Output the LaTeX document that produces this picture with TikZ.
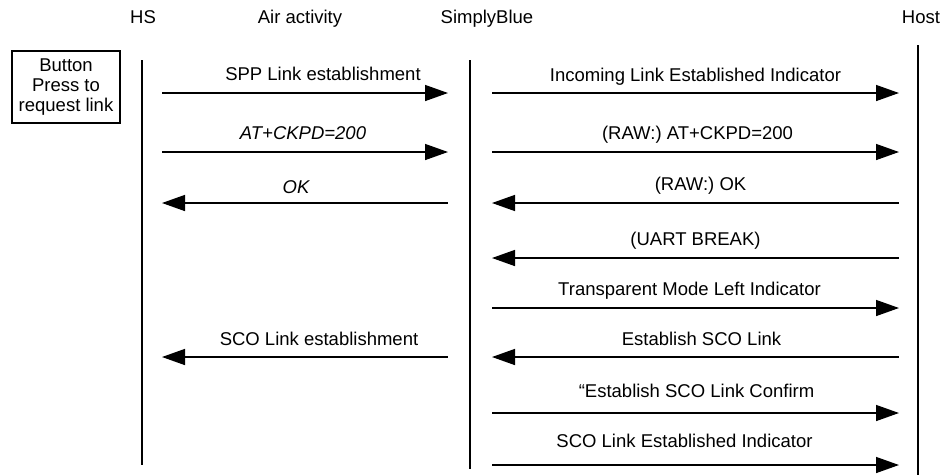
\documentclass[tikz,border=0pt]{standalone}
\usepackage{fontspec}
\setmainfont{Liberation Sans}
\usetikzlibrary{arrows.meta}
\tikzset{
  >={Triangle[length=23pt,width=16pt]},
  msg/.style={line width=1.4pt},
  lbl/.style={anchor=base, inner sep=0pt},
  head/.style={anchor=base, inner sep=0pt},
}
\begin{document}
\begin{tikzpicture}[x=1pt,y=-1pt,font=\fontsize{18.5}{20}\selectfont]
\useasboundingbox (0,0) rectangle (943,475);
\node[head] (hs) at (143,23) {HS};
\node[head] (air) at (300,23) {Air activity};
\node[head] (sb) at (487,23) {SimplyBlue};
\node[head] (host) at (921,23) {Host};
\coordinate (hsTop) at (142,60);
\coordinate (hsBot) at (142,465);
\coordinate (sbTop) at (470,60);
\coordinate (sbBot) at (470,469);
\coordinate (hostTop) at (918,45);
\coordinate (hostBot) at (918,475);
\draw[line width=2pt] (hsTop) -- (hsBot);
\draw[line width=1.4pt] (sbTop) -- (sbBot);
\draw[line width=2pt] (hostTop) -- (hostBot);
\node[draw, line width=1.5pt, minimum width=108pt, minimum height=72pt,
      align=center, inner sep=0pt] (btn) at (66,87) {Button\\Press to\\request link};
\foreach \i/\y/\d/\dx/\gap/\txt in {
  1/93/->/18/13/{SPP Link establishment},
  2/152/->/-2/13/{\itshape AT+CKPD=200},
  3/203/<-/-9/10/{\itshape OK},
  4/357/<-/14/12/{SCO Link establishment}}
{
  \coordinate (hsm\i) at (162,\y);
  \coordinate (sbl\i) at (448,\y);
  \draw[msg,\d] (hsm\i) -- node[lbl,xshift=\dx pt,yshift=\gap pt] {\txt} (sbl\i);
}
\foreach \i/\y/\d/\dx/\gap/\txt in {
  1/93/->/0/12/{Incoming Link Established Indicator},
  2/152/->/2/13/{(RAW:) AT+CKPD=200},
  3/203/<-/5/13/{(RAW:) OK},
  4/258/<-/0/13/{(UART BREAK)},
  5/308/->/-6/13/{Transparent Mode Left Indicator},
  6/357/<-/6/12/{Establish SCO Link},
  7/413/->/1/16/{“Establish SCO Link Confirm},
  8/465/->/-11/18/{SCO Link Established Indicator}}
{
  \coordinate (sbr\i) at (492,\y);
  \coordinate (hst\i) at (899,\y);
  \draw[msg,\d] (sbr\i) -- node[lbl,xshift=\dx pt,yshift=\gap pt] {\txt} (hst\i);
}
\end{tikzpicture}
\end{document}
